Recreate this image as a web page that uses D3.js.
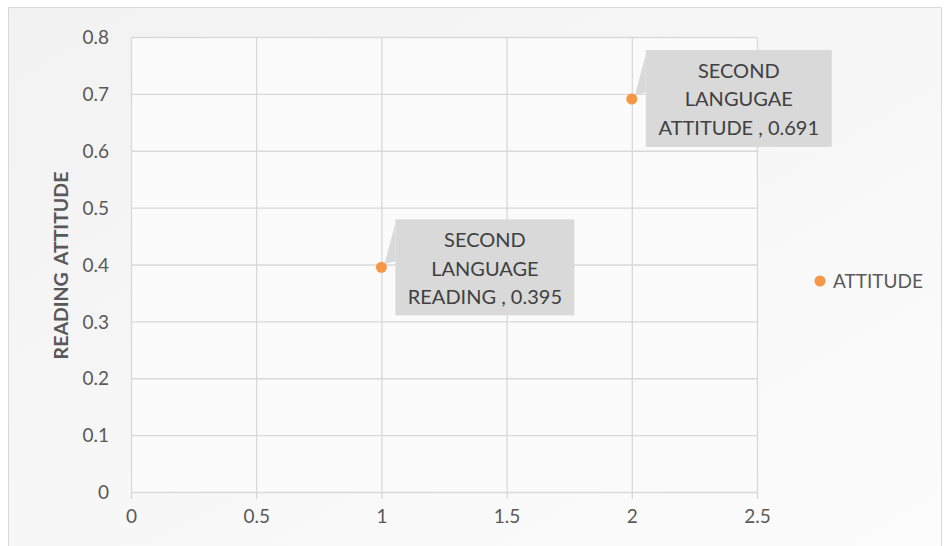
<!DOCTYPE html>
<html lang="en">
<head>
<meta charset="UTF-8" />
<title>Reading Attitude</title>
<script src="https://d3js.org/d3.v7.min.js"></script>
<style>
  body { margin: 0; background: #fff; font-family: Lato, "Open Sans", sans-serif; }
</style>
</head>
<body>
<div id="chart"></div>
<script>
// --- data ---
const pointX = [1, 2];
const pointY = [0.395, 0.691];
const pointLabels = [["SECOND", "LANGUAGE", "READING , 0.395"], ["SECOND", "LANGUGAE", "ATTITUDE , 0.691"]];
const xTicks = [0, 0.5, 1, 1.5, 2, 2.5];
const yTicks = [0, 0.1, 0.2, 0.3, 0.4, 0.5, 0.6, 0.7, 0.8];
const seriesName = "ATTITUDE";

const W = 944, H = 546;
const color = "#f79646";
const font = "Lato, 'Open Sans', sans-serif";

const svg = d3.select("#chart").append("svg").attr("width", W).attr("height", H);

const grad = svg.append("defs").append("linearGradient").attr("id", "bg")
  .attr("x1", "0").attr("y1", "0").attr("x2", "1").attr("y2", "1");
grad.append("stop").attr("offset", "0").attr("stop-color", "#f2f2f2");
grad.append("stop").attr("offset", "1").attr("stop-color", "#fcfcfc");

svg.append("rect").attr("x", 8.5).attr("y", 7.5).attr("width", 933).attr("height", 545)
  .attr("fill", "url(#bg)").attr("stroke", "#d9d9d9");

// scales
const x = d3.scaleLinear().domain([0, 2.5]).range([131, 757]);
const y = d3.scaleLinear().domain([0, 0.8]).range([492, 37]);

// plot area
svg.append("rect").attr("x", x(0)).attr("y", y(0.8)).attr("width", x(2.5) - x(0)).attr("height", y(0) - y(0.8))
  .attr("fill", "#fbfbfb");

// grid
svg.append("g").selectAll("line").data(yTicks).join("line")
  .attr("x1", x(0)).attr("x2", x(2.5)).attr("y1", d => y(d) + 0.5).attr("y2", d => y(d) + 0.5)
  .attr("stroke", "#d9d9d9").attr("stroke-width", 1.3);
svg.append("g").selectAll("line").data(xTicks).join("line")
  .attr("x1", d => x(d) + 0.5).attr("x2", d => x(d) + 0.5).attr("y1", y(0.8)).attr("y2", y(0) + 7)
  .attr("stroke", "#d9d9d9").attr("stroke-width", 1.3);

// axes (labels only)
const xAxis = svg.append("g").attr("transform", `translate(0,${y(0)})`)
  .call(d3.axisBottom(x).tickValues(xTicks).tickFormat(d3.format("")).tickSize(0).tickPadding(24));
const yAxis = svg.append("g").attr("transform", `translate(${x(0)},0)`)
  .call(d3.axisLeft(y).tickValues(yTicks).tickFormat(d3.format("")).tickSize(0).tickPadding(22));
[xAxis, yAxis].forEach(a => {
  a.select(".domain").remove();
  a.attr("font-family", font).attr("font-size", 19);
  a.selectAll("text").attr("fill", "#595959").attr("dy", "0.35em");
});

// y title
svg.append("text").attr("transform", `translate(68,${(y(0) + y(0.8)) / 2 + 1}) rotate(-90)`)
  .attr("text-anchor", "middle").attr("fill", "#595959").attr("font-family", font)
  .attr("font-size", 19.5).attr("font-weight", "bold").attr("word-spacing", 3)
  .text("READING ATTITUDE");

// data labels with callouts
const boxes = [{ dx: 14, dy: -48, w: 179, h: 96 }, { dx: 14, dy: -49, w: 186, h: 97 }];
pointX.forEach((px, i) => {
  const cx = x(px), cy = y(pointY[i]);
  const b = boxes[i];
  const bx = cx + b.dx, by = cy + b.dy;
  const g = svg.append("g");
  g.append("polygon")
    .attr("points", `${bx},${by + 4} ${cx + 3},${cy - 3} ${bx},${by + 42}`)
    .attr("fill", "#d9d9d9");
  g.append("rect").attr("x", bx).attr("y", by).attr("width", b.w).attr("height", b.h).attr("fill", "#d9d9d9");
  pointLabels[i].forEach((t, j) => {
    g.append("text").attr("x", bx + b.w / 2).attr("y", by + 28 + j * 28.5)
      .attr("text-anchor", "middle").attr("fill", "#404040")
      .attr("font-family", font).attr("font-size", 20).text(t);
  });
});

// points
svg.append("g").selectAll("circle").data(pointX).join("circle")
  .attr("cx", d => x(d)).attr("cy", (d, i) => y(pointY[i])).attr("r", 5.5).attr("fill", color);

// legend
svg.append("circle").attr("cx", 820).attr("cy", 281).attr("r", 5.5).attr("fill", color);
svg.append("text").attr("x", 833).attr("y", 288).attr("fill", "#595959").attr("font-family", font)
  .attr("font-size", 19).text(seriesName);
</script>
</body>
</html>
